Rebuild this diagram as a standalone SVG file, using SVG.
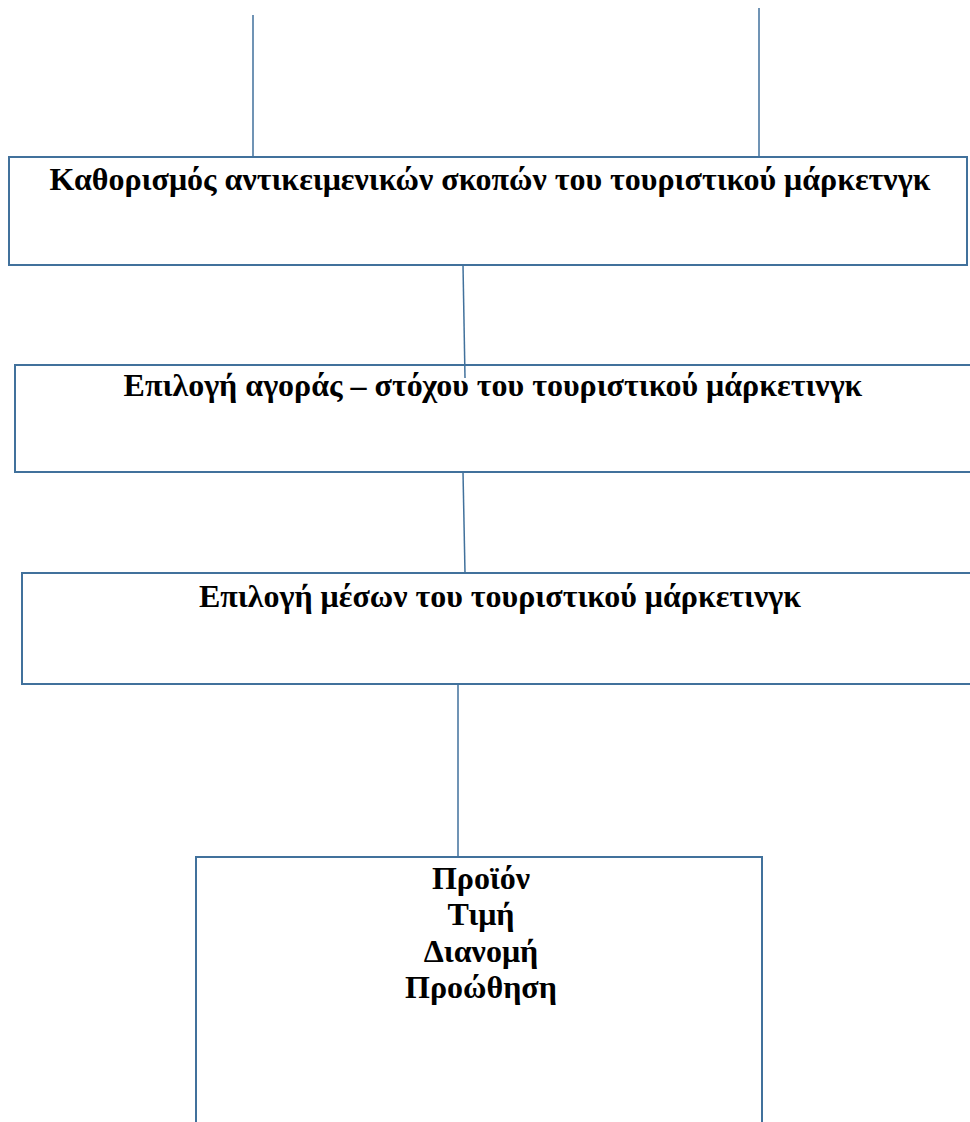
<svg xmlns="http://www.w3.org/2000/svg" width="970" height="1122" viewBox="0 0 970 1122">
<style>
.box{fill:#fff;stroke:#41719C;stroke-width:2}
.con{stroke:#41719C;stroke-width:1.5;fill:none}
.t{font-family:"Liberation Serif","Times New Roman",serif;font-weight:bold;font-size:32px;fill:#000;text-anchor:middle}
</style>
<rect width="970" height="1122" fill="#fff"/>
<g id="n1"><rect class="box" x="9" y="157" width="958" height="108"/>
<text class="t" x="490" y="190">Καθορισμός αντικειμενικών σκοπών του τουριστικού μάρκετνγκ</text></g>
<g id="n2"><rect class="box" x="15" y="365" width="960" height="107"/>
<text class="t" x="493" y="396">Επιλογή αγοράς – στόχου του τουριστικού μάρκετινγκ</text></g>
<g id="n3"><rect class="box" x="22" y="573" width="953" height="111"/>
<text class="t" x="500" y="607">Επιλογή μέσων του τουριστικού μάρκετινγκ</text></g>
<g id="n4"><rect class="box" x="196" y="857" width="566" height="280"/>
<text class="t" x="481"><tspan x="481" y="889">Προϊόν</tspan><tspan x="481" y="925">Τιμή</tspan><tspan x="481" y="962">Διανομή</tspan><tspan x="481" y="998">Προώθηση</tspan></text></g>
<g id="connectors">
<line class="con" x1="253" y1="15" x2="253" y2="157"/>
<line class="con" x1="759" y1="8" x2="759" y2="157"/>
<line class="con" x1="463" y1="265" x2="465" y2="378"/>
<line class="con" x1="463" y1="472" x2="465" y2="573"/>
<line class="con" x1="458" y1="684" x2="458" y2="857"/>
</g>
</svg>
